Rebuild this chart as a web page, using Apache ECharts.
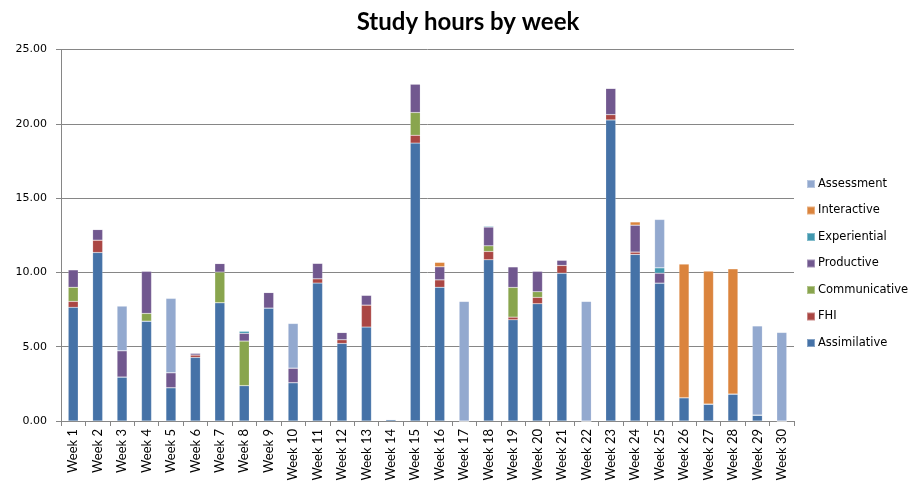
<!DOCTYPE html>
<html lang="en">
<head>
    <meta charset="UTF-8">
    <title>Study hours by week</title>
    <script src="https://cdn.jsdelivr.net/npm/echarts@6/dist/echarts.min.js"></script>
    <style>
        html, body { margin: 0; padding: 0; background: #fff; }
    </style>
</head>
<body>
    <div style="width: 909px; height: 489px" id="main"></div>
    <script type="text/javascript">
        var weeks = [];
        for (var i = 1; i <= 30; i++) weeks.push('Week ' + i);

        var assimilative  = [7.65, 11.34, 2.96, 6.72, 2.24, 4.28, 7.96, 2.38, 7.6, 2.58, 9.28, 5.22, 6.32, 0.1, 18.7, 9.0, 0, 10.85, 6.81, 7.89, 9.95, 0, 20.26, 11.21, 9.28, 1.57, 1.14, 1.82, 0.4, 0];
        var fhi           = [0.4, 0.83, 0, 0, 0, 0.16, 0, 0, 0, 0, 0.29, 0.25, 1.48, 0, 0.53, 0.5, 0, 0.56, 0.18, 0.43, 0.52, 0, 0.36, 0.16, 0, 0, 0, 0, 0, 0];
        var communicative = [0.95, 0, 0, 0.52, 0, 0, 2.06, 3.0, 0, 0, 0, 0, 0, 0, 1.53, 0, 0, 0.38, 2.0, 0.38, 0, 0, 0, 0, 0, 0, 0, 0, 0, 0];
        var productive    = [1.18, 0.72, 1.77, 2.85, 1.01, 0.13, 0.58, 0.52, 1.05, 0.98, 1.05, 0.49, 0.67, 0, 1.92, 0.88, 0, 1.26, 1.39, 1.39, 0.36, 0, 1.77, 1.81, 0.67, 0, 0, 0, 0, 0];
        var experiential  = [0, 0, 0, 0, 0, 0, 0, 0.15, 0, 0, 0, 0, 0, 0, 0, 0, 0, 0.07, 0, 0, 0, 0, 0, 0, 0.36, 0, 0, 0, 0, 0];
        var interactive   = [0, 0, 0, 0, 0, 0, 0, 0, 0, 0, 0, 0, 0, 0, 0, 0.3, 0, 0, 0, 0, 0, 0, 0, 0.22, 0, 9.0, 8.95, 8.42, 0, 0];
        var assessment    = [0, 0, 3.0, 0, 5.0, 0, 0, 0, 0, 3.0, 0, 0, 0, 0, 0, 0, 8.05, 0, 0, 0, 0, 8.05, 0, 0, 3.25, 0, 0, 0, 6.0, 5.96];

        var seriesDefs = [
            ['Assimilative', assimilative, '#4572A7'],
            ['FHI', fhi, '#AA4643'],
            ['Communicative', communicative, '#89A54E'],
            ['Productive', productive, '#71588F'],
            ['Experiential', experiential, '#4198AF'],
            ['Interactive', interactive, '#DB843D'],
            ['Assessment', assessment, '#93A9CF']
        ];

        var series = seriesDefs.map(function (d) {
            return {
                name: d[0],
                type: 'bar',
                stack: 'hours',
                barWidth: 10,
                data: d[1],
                itemStyle: {
                    color: d[2],
                    borderColor: 'rgba(255,255,255,0.35)',
                    borderWidth: 0.5
                },
                emphasis: { disabled: true }
            };
        });

        var myChart = echarts.init(document.getElementById('main'));
        var option = {
            animation: false,
            textStyle: { fontFamily: 'Lato' },
            title: {
                text: 'Study hours by week',
                left: 463,
                top: 5,
                textAlign: 'center',
                textStyle: {
                    fontFamily: 'Lato',
                    fontWeight: 'bold',
                    fontSize: 24,
                    color: '#000'
                }
            },
            legend: {
                orient: 'vertical',
                left: 806,
                top: 177,
                padding: 0,
                itemGap: 12.5,
                itemWidth: 8,
                itemHeight: 8,
                icon: 'rect',
                data: ['Assessment', 'Interactive', 'Experiential', 'Productive', 'Communicative', 'FHI', 'Assimilative'],
                textStyle: {
                    fontFamily: 'DejaVu Sans',
                    fontSize: 11.5,
                    lineHeight: 14,
                    color: '#000',
                    padding: [0, 0, 0, -2]
                }
            },
            grid: {
                left: 61,
                right: 115,
                top: 49.5,
                bottom: 68,
                containLabel: false
            },
            xAxis: {
                type: 'category',
                data: weeks,
                axisLine: { lineStyle: { color: '#868686' } },
                axisTick: { show: true, length: 5, lineStyle: { color: '#868686' } },
                axisLabel: {
                    rotate: 90,
                    interval: 0,
                    fontSize: 13,
                    color: '#000',
                    margin: 8
                }
            },
            yAxis: {
                type: 'value',
                min: 0,
                max: 25,
                interval: 5,
                axisLine: { show: true, lineStyle: { color: '#868686' } },
                axisTick: { show: true, inside: false, length: 5, lineStyle: { color: '#868686' } },
                splitLine: { lineStyle: { color: '#868686' } },
                axisLabel: {
                    fontFamily: 'DejaVu Sans',
                    fontSize: 11,
                    color: '#000',
                    margin: 14,
                    formatter: function (v) { return v.toFixed(2); }
                }
            },
            series: series
        };
        myChart.setOption(option);
    </script>
</body>
</html>
